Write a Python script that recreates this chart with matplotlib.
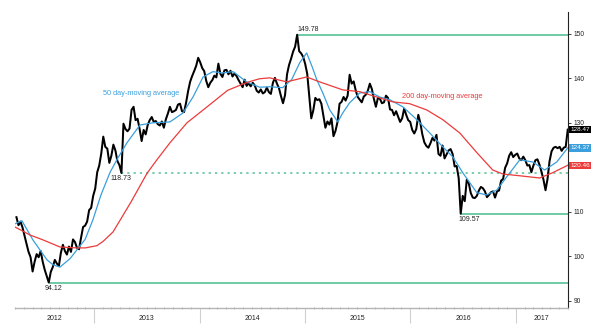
import matplotlib
matplotlib.use('Agg')
import matplotlib.pyplot as plt
import matplotlib.dates as mdates
from matplotlib.ticker import NullFormatter
import numpy as np
import pandas as pd

plt.rcParams['font.family'] = ['Liberation Sans', 'DejaVu Sans']

# weekly closes (Fridays), one list per year
p2012 = [108.8, 107.0, 107.8, 106.5,
         104.6, 102.8, 101.0, 99.8,
         96.6, 98.8, 100.5, 99.8, 101.2,
         98.8, 97.0, 95.6, 94.12,
         96.5, 97.6, 99.2, 98.4, 97.8,
         100.8, 102.6, 101.2, 100.4,
         102.2, 101.0, 103.8, 103.2,
         101.9, 101.6, 104.2, 106.6, 106.9,
         107.8, 110.4, 110.9, 113.6]
p2013 = [115.2, 118.9, 120.4, 123.1,
         126.9, 124.6, 124.2, 121.0,
         122.6, 125.1, 123.8, 121.4, 120.5,
         118.73, 129.8, 128.6, 128.1,
         128.7, 132.9, 133.6, 130.6, 130.9,
         128.6, 125.9, 128.4, 127.4,
         129.5, 130.6, 131.3, 130.2,
         130.4, 129.7, 129.4, 130.3, 128.9,
         130.8, 132.1, 133.6, 132.4,
         132.6, 132.9, 134.1, 134.3,
         132.6, 132.4, 134.5, 137.1, 139.2,
         140.5, 141.6, 142.8, 144.6]
p2014 = [143.6, 142.3, 141.6, 139.4, 138.0,
         139.0, 139.6, 140.6, 140.2,
         143.3, 141.0, 140.3, 141.8,
         141.9, 140.9, 141.7, 140.4,
         141.1, 140.5, 139.6, 138.8, 138.0,
         139.7, 138.3, 138.9, 138.2,
         139.0, 138.4, 137.2, 136.8,
         137.5, 136.6, 136.9, 137.9, 136.9,
         136.5, 139.0, 140.1, 138.8,
         137.8, 136.0, 134.4, 136.2, 140.9,
         143.0, 144.4, 146.0, 147.1,
         149.78, 146.1, 145.6, 144.8]
p2015 = [143.2, 141.0, 136.0, 131.0, 132.8,
         135.6, 135.1, 135.3, 134.3,
         131.6, 128.9, 130.3, 129.6,
         131.0, 127.0, 128.2, 130.2,
         134.3, 134.7, 135.8, 135.0, 136.1,
         140.8, 138.8, 139.3, 137.3,
         135.8, 135.2, 134.6, 135.9, 136.3,
         137.2, 138.8, 137.6, 135.4,
         133.6, 135.6, 135.4, 134.4,
         134.6, 136.1, 135.6, 133.0, 132.9,
         131.7, 132.6, 131.4, 130.2,
         131.0, 133.2, 131.8, 130.6]
p2016 = [130.2, 128.4, 127.6, 128.6, 131.8,
         130.0, 127.4, 125.6, 124.8,
         124.4, 125.4, 126.6, 126.0,
         127.3, 123.0, 122.6, 124.9, 122.0,
         122.9, 123.8, 124.1, 123.0,
         120.2, 120.3, 117.6, 109.57,
         113.6, 112.4, 117.2, 116.4, 114.2,
         113.2, 113.1, 113.6, 114.8,
         115.6, 115.3, 114.6, 113.3, 113.8,
         114.4, 114.6, 113.2, 114.6,
         114.8, 117.0, 117.4, 119.9,
         120.9, 122.6, 123.4, 122.3, 122.8]
p2017 = [123.1, 122.0, 121.6, 122.4,
         121.6, 120.4, 120.5, 118.9,
         120.4, 121.6, 121.8, 120.6, 119.0,
         117.2, 114.85, 117.4, 121.4,
         123.6, 124.4, 124.6, 124.3,
         124.6, 123.7, 124.4, 124.6, 128.47]

ma50_dates = ['2012-04-01', '2012-04-25', '2012-06-02', '2012-07-21', '2012-08-11',
              '2012-09-04', '2012-10-09', '2012-11-02', '2012-11-30', '2012-12-27',
              '2013-01-24', '2013-02-24', '2013-03-20', '2013-04-24', '2013-06-08',
              '2013-07-23', '2013-09-20', '2013-11-04', '2013-12-09', '2014-01-13',
              '2014-02-16', '2014-03-20', '2014-04-27', '2014-06-13', '2014-07-28',
              '2014-09-01', '2014-10-16', '2014-11-16', '2014-12-14', '2015-01-07',
              '2015-01-26', '2015-02-11', '2015-03-04', '2015-03-28', '2015-04-25',
              '2015-05-12', '2015-06-05', '2015-07-10', '2015-08-14', '2015-09-17',
              '2015-10-22', '2015-12-06', '2015-12-30', '2016-01-24', '2016-03-09',
              '2016-04-23', '2016-05-27', '2016-07-01', '2016-07-26', '2016-08-19',
              '2016-09-22', '2016-10-27', '2016-12-01', '2017-01-15', '2017-03-01',
              '2017-04-11', '2017-05-23', '2017-06-30']
ma50 = [107.3, 108.0, 103.7, 99.2, 98.1,
        97.6, 99.5, 101.5, 103.8, 108.2,
        113.8, 118.8, 121.7, 125.5, 129.5,
        130.0, 130.2, 132.2, 135.8, 140.3,
        141.5, 141.2, 141.5, 139.2, 138.0,
        138.1, 137.9, 139.7, 143.5, 145.7,
        142.6, 139.7, 136.7, 132.9, 130.2,
        132.2, 134.5, 136.7, 137.0, 135.8,
        135.2, 133.6, 132.2, 130.7, 127.7,
        124.6, 122.4, 118.8, 116.5, 114.3,
        113.8, 114.9, 117.9, 121.7, 121.2,
        119.4, 121.2, 124.37]

ma200_dates = ['2012-04-01', '2012-05-23', '2012-07-07', '2012-09-04', '2012-11-02',
               '2012-12-01', '2013-01-10', '2013-02-01', '2013-03-07', '2013-05-08',
               '2013-07-03', '2013-08-06', '2013-09-20', '2013-11-18', '2014-01-27',
               '2014-04-08', '2014-06-15', '2014-07-28', '2014-09-01', '2014-10-30',
               '2015-01-07', '2015-02-21', '2015-05-12', '2015-07-10', '2015-09-07',
               '2015-11-02', '2015-12-30', '2016-02-27', '2016-04-23', '2016-06-21',
               '2016-08-19', '2016-10-13', '2016-11-17', '2017-01-15', '2017-03-25',
               '2017-05-09', '2017-06-30']
ma200 = [106.6, 104.8, 103.7, 102.1, 101.9,
         101.9, 102.4, 103.4, 105.5, 112.2,
         118.7, 121.7, 125.5, 130.0, 133.6,
         137.3, 139.1, 139.9, 140.1, 139.2,
         140.3, 139.2, 137.4, 137.0, 135.8,
         134.7, 134.3, 132.9, 130.7, 127.7,
         123.3, 119.4, 118.5, 118.1, 117.6,
         118.8, 120.46]

solid_levels = [149.78, 94.12, 109.57]
dotted_level = 118.73

y_ticks = [90, 100, 110, 120, 130, 140, 150]
y_tick_labels = ['90', '100', '110', '', '130', '140', '150']  # 120 sits under the red tag

GREEN = '#55c196'
BLUE = '#3a9fdc'
RED = '#ec3b3b'

price = p2012 + p2013 + p2014 + p2015 + p2016 + p2017
s = pd.Series(price, index=pd.date_range('2012-04-06', periods=len(price), freq='W-FRI'))
d50 = pd.to_datetime(ma50_dates)
d200 = pd.to_datetime(ma200_dates)

x0 = pd.Timestamp('2012-04-01')
x1 = pd.Timestamp('2017-07-01')

fig = plt.figure(figsize=(6, 3.3), dpi=100)
ax = fig.add_axes([0.025, 0.0667, 0.9217, 0.897])

def level_date(v):
    return s.index[np.isclose(s.values, v)][0]

# support / resistance levels
for lv in solid_levels:
    ax.hlines(lv, level_date(lv), x1, color=GREEN, lw=1.2, zorder=2)
ax.hlines(dotted_level, level_date(dotted_level), x1, color=GREEN, lw=1.1,
          linestyles=(0, (1.5, 2.6)), zorder=2)

ax.plot(s.index, s.values, color='black', lw=1.45, zorder=3)
ax.plot(d50, ma50, color=BLUE, lw=0.9, zorder=4)
ax.plot(d200, ma200, color=RED, lw=0.9, zorder=4)

# level labels
lab = dict(fontsize=5, color='#222222', textcoords='offset points')
ax.annotate(f'{solid_levels[0]:.2f}', (level_date(solid_levels[0]), solid_levels[0]),
            xytext=(0, 1), ha='left', va='bottom', **lab)
ax.annotate(f'{solid_levels[1]:.2f}', (level_date(solid_levels[1]), solid_levels[1]),
            xytext=(-3, -1.5), ha='left', va='top', **lab)
ax.annotate(f'{solid_levels[2]:.2f}', (level_date(solid_levels[2]), solid_levels[2]),
            xytext=(-1.5, -1.5), ha='left', va='top', **lab)
ax.annotate(f'{dotted_level:.2f}', (level_date(dotted_level), dotted_level),
            xytext=(-8, -1.5), ha='left', va='top', **lab)

ax.text(pd.Timestamp('2013-01-31'), 136.5, '50 day-moving average', color=BLUE,
        fontsize=5.3, ha='left', va='center')
ax.text(pd.Timestamp('2015-12-03'), 135.8, '200 day-moving average', color=RED,
        fontsize=5.3, ha='left', va='center')

# last values on the price axis
for val, col in [(price[-1], 'black'), (ma50[-1], BLUE), (ma200[-1], RED)]:
    ax.text(1.004, val, f'{val:.2f}', transform=ax.get_yaxis_transform(),
            fontsize=4.6, color='white', ha='left', va='center', clip_on=False,
            bbox=dict(boxstyle='square,pad=0.18', fc=col, ec='none'), zorder=6)

ax.set_xlim(x0, x1)
ax.set_ylim(88.4, 154.9)

for side in ['top', 'left']:
    ax.spines[side].set_visible(False)
ax.spines['bottom'].set_color('#b5b5b5')
ax.spines['bottom'].set_linewidth(1.0)
ax.spines['right'].set_color('#222222')
ax.spines['right'].set_linewidth(0.8)

ax.yaxis.tick_right()
ax.set_yticks(y_ticks)
ax.set_yticklabels(y_tick_labels)
ax.tick_params(axis='y', labelsize=4.8, length=2.5, width=0.6, pad=1.5,
               colors='#222222')

ax.xaxis.set_major_locator(mdates.YearLocator())
ax.xaxis.set_major_formatter(NullFormatter())
ax.xaxis.set_minor_locator(mdates.MonthLocator())
ax.tick_params(axis='x', which='major', length=11, width=0.8, color='#d0d0d0',
               direction='out')
ax.tick_params(axis='x', which='minor', length=2, width=0.5, color='#999999',
               direction='inout')

# year labels centred on the visible part of each year
for yr in range(2012, 2018):
    a = max(pd.Timestamp(f'{yr}-01-01'), x0)
    b = min(pd.Timestamp(f'{yr + 1}-01-01'), x1)
    ax.text(a + (b - a) / 2, -0.034, str(yr), transform=ax.get_xaxis_transform(),
            fontsize=5, color='#222222', ha='center', va='center')

fig.savefig('out.png', dpi=100)
